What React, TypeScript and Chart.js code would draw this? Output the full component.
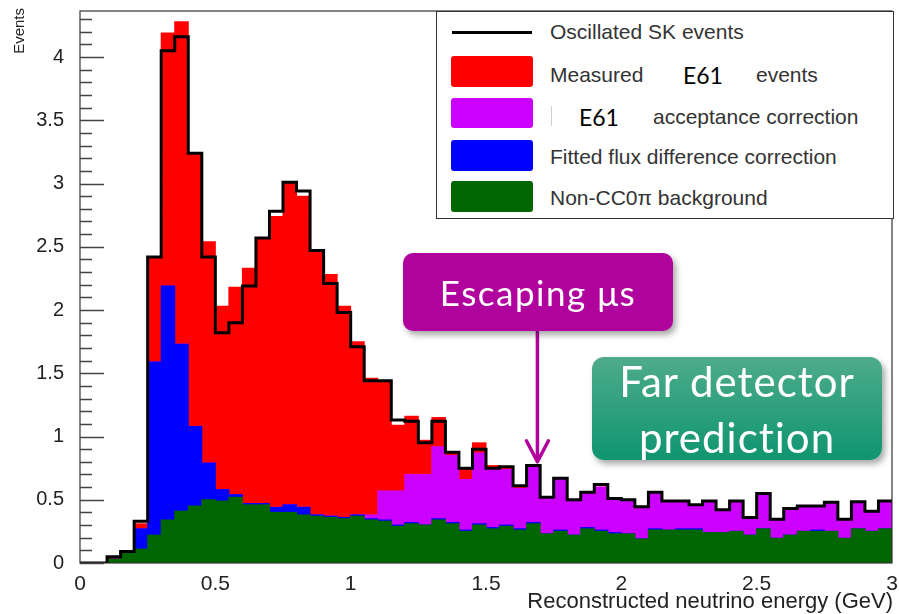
import { useEffect, useRef } from "react";
import { Chart, registerables } from "chart.js";

Chart.register(...registerables);

// Binning: 60 bins of 0.05 GeV from 0 to 3 GeV
const E_MIN = 0;
const E_MAX = 3;
const BIN_WIDTH = 0.05;
const N_BINS = 60;
const binLowEdges = Array.from({ length: N_BINS }, (_, i) => Math.round((E_MIN + i * BIN_WIDTH) * 1000) / 1000);

// Stacked contributions per bin (bottom to top)
const nonCC0piBackground = [
  0, 0, 0.03, 0.08, 0.11, 0.22, 0.34, 0.41, 0.45, 0.5,
  0.49, 0.52, 0.46, 0.46, 0.4, 0.4, 0.38, 0.37, 0.36, 0.35,
  0.37, 0.34, 0.33, 0.29, 0.31, 0.3, 0.34, 0.31, 0.25, 0.3,
  0.27, 0.29, 0.26, 0.31, 0.23, 0.25, 0.22, 0.27, 0.25, 0.23,
  0.23, 0.19, 0.26, 0.26, 0.26, 0.26, 0.24, 0.24, 0.25, 0.22,
  0.27, 0.195, 0.22, 0.25, 0.25, 0.25, 0.195, 0.27, 0.25, 0.27,
];

const fluxDifferenceCorrection = [
  0, 0, 0, 0, 0.16, 1.37, 1.85, 1.32, 0.63, 0.29,
  0.09, 0.02, 0.01, 0.01, 0.04, 0.06, 0.06, 0.01, 0.01, 0.01,
  0.01, 0.01, 0.01, 0.01, 0.01, 0, 0.01, 0.01, 0.01, 0.01,
  0.01, 0.01, 0.01, 0.01, 0, 0.01, 0, 0.01, 0.01, 0.01,
  0, 0, 0.01, 0, 0.01, 0.01, 0, 0, 0, 0,
  0, 0, 0, 0, 0.01, 0, 0, 0, 0, 0,
];

const acceptanceCorrection = [
  0, 0, 0, 0, 0, 0, 0, 0, 0, 0,
  0, 0, 0, 0, 0, 0, 0, 0, 0, 0,
  0, 0.03, 0.23, 0.27, 0.38, 0.4, 0.57, 0.53, 0.4, 0.56,
  0.46, 0.44, 0.32, 0.44, 0.28, 0.4, 0.27, 0.27, 0.34, 0.26,
  0.26, 0.24, 0.28, 0.22, 0.21, 0.18, 0.24, 0.17, 0.23, 0.13,
  0.27, 0.14, 0.2, 0.19, 0.18, 0.22, 0.14, 0.205, 0.15, 0.21,
];

const measuredEvents = [
  0, 0, 0.01, 0, 0.04, 0.83, 2.0, 2.55, 2.16, 1.75,
  1.45, 1.64, 1.86, 2.09, 2.3, 2.54, 2.46, 2.09, 1.91, 1.67,
  1.37, 1.08, 0.87, 0.52, 0.46, 0.27, 0.23, 0.03, 0.09, 0.08,
  0.03, 0.01, 0.01, 0.01, 0, 0, 0, 0, 0, 0,
  0, 0, 0, 0, 0, 0, 0, 0, 0, 0,
  0, 0, 0, 0, 0, 0, 0, 0, 0, 0,
];

// Oscillated SK prediction (drawn as histogram outline)
const oscillatedSK = [
  0, 0, 0.05, 0.09, 0.33, 2.42, 4.05, 4.16, 3.24, 2.42,
  1.82, 1.9, 2.19, 2.57, 2.78, 3.01, 2.94, 2.47, 2.21, 1.98,
  1.71, 1.44, 1.44, 1.13, 1.12, 0.95, 1.12, 0.875, 0.75, 0.9,
  0.75, 0.76, 0.61, 0.77, 0.52, 0.67, 0.5, 0.56, 0.62, 0.51,
  0.5, 0.445, 0.56, 0.49, 0.49, 0.46, 0.49, 0.42, 0.49, 0.36,
  0.55, 0.345, 0.43, 0.45, 0.45, 0.48, 0.345, 0.485, 0.41, 0.49,
];

const Y_MAX = 4.364;

// "Escaping μs" pointer, in data coordinates
const escapingArrow = { energy: 1.69, from: 1.83, to: 0.8 };

const COLORS = {
  background: "#006600",
  flux: "#0000ff",
  acceptance: "#cc00ff",
  measured: "#ff0000",
  outline: "#000000",
  escaping: "#b0029c",
};

const ROOT_FONT = '"Liberation Sans", Arial, Helvetica, sans-serif';
const SLIDE_FONT = 'Lato, "Open Sans", sans-serif';

const binCenters = binLowEdges.map((e) => e + BIN_WIDTH / 2);
const toBars = (vals: number[]) => vals.map((v, i) => ({ x: binCenters[i], y: v }));
const outlinePoints = [
  ...binLowEdges.map((e, i) => ({ x: e, y: oscillatedSK[i] })),
  { x: E_MAX, y: oscillatedSK[oscillatedSK.length - 1] },
];

const fmtTick = (v: number | string) => String(Math.round(Number(v) * 10) / 10);

const noScalePadding = (s: any) => {
  s.paddingTop = 0;
  s.paddingBottom = 0;
  s.paddingLeft = 0;
  s.paddingRight = 0;
};

// Frame, inward ROOT-style ticks, axis titles and the annotation arrow
const rootStylePlugin = {
  id: "rootStyle",
  afterDatasetsDraw(chart: any) {
    const { ctx, chartArea } = chart;
    const { left, top, right, bottom } = chartArea;
    const x = chart.scales.x;
    const y = chart.scales.y;
    ctx.save();

    // frame
    ctx.strokeStyle = "#333";
    ctx.lineWidth = 1.2;
    ctx.strokeRect(left, top, right - left, bottom - top);

    // y ticks: major every 0.5, minor every 0.1
    ctx.strokeStyle = "#444";
    ctx.lineWidth = 1.3;
    ctx.beginPath();
    for (let k = 0; k <= 43; k++) {
      const v = k / 10;
      const py = Math.round(y.getPixelForValue(v)) + 0.5;
      const len = k % 5 === 0 ? 24 : 12;
      ctx.moveTo(left, py);
      ctx.lineTo(left + len, py);
    }
    ctx.stroke();

    // arrow
    const ax = x.getPixelForValue(escapingArrow.energy);
    const ay0 = y.getPixelForValue(escapingArrow.from);
    const ay1 = y.getPixelForValue(escapingArrow.to);
    ctx.strokeStyle = COLORS.escaping;
    ctx.lineWidth = 3.5;
    ctx.lineCap = "round";
    ctx.lineJoin = "round";
    ctx.beginPath();
    ctx.moveTo(ax, ay0);
    ctx.lineTo(ax, ay1);
    ctx.moveTo(ax - 11, ay1 - 21);
    ctx.lineTo(ax, ay1);
    ctx.lineTo(ax + 11, ay1 - 21);
    ctx.stroke();

    // axis titles
    ctx.fillStyle = "#222";
    ctx.font = `22px ${ROOT_FONT}`;
    ctx.textAlign = "right";
    ctx.textBaseline = "middle";
    ctx.fillText("Reconstructed neutrino energy (GeV)", right + 1, 602);

    ctx.translate(20, 8);
    ctx.rotate(-Math.PI / 2);
    ctx.font = `15px ${ROOT_FONT}`;
    ctx.textAlign = "right";
    ctx.fillText("Events", 0, 0);
    ctx.restore();
  },
};

export default function App() {
  const canvasRef = useRef<HTMLCanvasElement>(null);

  useEffect(() => {
    const chart = new Chart(canvasRef.current!, {
      type: "bar",
      data: {
        datasets: [
          {
            type: "line",
            label: "Oscillated SK events",
            data: outlinePoints,
            borderColor: COLORS.outline,
            borderWidth: 3,
            pointRadius: 0,
            stepped: true,
            fill: false,
            order: 0,
            stack: "outline",
          } as any,
          {
            label: "Non-CC0π background",
            data: toBars(nonCC0piBackground),
            backgroundColor: COLORS.background,
            order: 1,
            stack: "prediction",
          },
          {
            label: "Fitted flux difference correction",
            data: toBars(fluxDifferenceCorrection),
            backgroundColor: COLORS.flux,
            order: 2,
            stack: "prediction",
          },
          {
            label: "E61 acceptance correction",
            data: toBars(acceptanceCorrection),
            backgroundColor: COLORS.acceptance,
            order: 3,
            stack: "prediction",
          },
          {
            label: "Measured E61 events",
            data: toBars(measuredEvents),
            backgroundColor: COLORS.measured,
            order: 4,
            stack: "prediction",
          },
        ],
      },
      options: {
        responsive: false,
        animation: false,
        devicePixelRatio: 1,
        layout: { padding: { left: 0, right: 7, top: 11, bottom: 0 } },
        datasets: {
          bar: { barPercentage: 1, categoryPercentage: 1, borderWidth: 0, inflateAmount: 0.5 },
        },
        plugins: { legend: { display: false }, tooltip: { enabled: false } },
        scales: {
          x: {
            type: "linear",
            min: E_MIN,
            max: E_MAX,
            stacked: true,
            offset: false,
            grid: { display: false },
            border: { display: false },
            ticks: {
              stepSize: 0.5,
              autoSkip: false,
              maxRotation: 0,
              padding: 3,
              color: "#222",
              font: { family: ROOT_FONT, size: 21, lineHeight: 1 },
              callback: fmtTick,
            },
            afterFit: (s: any) => {
              s.height = 51;
              noScalePadding(s);
            },
          },
          y: {
            type: "linear",
            min: 0,
            max: Y_MAX,
            stacked: true,
            grid: { display: false },
            border: { display: false },
            ticks: {
              stepSize: 0.5,
              includeBounds: false,
              padding: 8,
              color: "#222",
              font: { family: ROOT_FONT, size: 20, lineHeight: 1 },
              callback: fmtTick,
            },
            afterFit: (s: any) => {
              s.width = 80;
              noScalePadding(s);
            },
          },
        },
      } as any,
      plugins: [rootStylePlugin],
    });
    return () => chart.destroy();
  }, []);

  const legendText: React.CSSProperties = {
    position: "absolute",
    fontFamily: ROOT_FONT,
    fontSize: 21,
    lineHeight: "24px",
    color: "#333",
    whiteSpace: "nowrap",
  };
  const slideE61: React.CSSProperties = {
    position: "absolute",
    fontFamily: SLIDE_FONT,
    fontSize: 23,
    lineHeight: "24px",
    color: "#000",
    whiteSpace: "nowrap",
  };
  const swatch = (color: string, top: number, height: number): React.CSSProperties => ({
    position: "absolute",
    left: 451,
    top,
    width: 82,
    height,
    background: color,
    borderRadius: 3,
  });

  return (
    <div
      style={{
        position: "absolute",
        left: 0,
        top: 0,
        width: 899,
        height: 614,
        background: "#fff",
        overflow: "hidden",
      }}
    >
      <canvas ref={canvasRef} width={899} height={614} style={{ position: "absolute", left: 0, top: 0 }} />

      {/* Legend */}
      <div
        style={{
          position: "absolute",
          left: 436,
          top: 11,
          width: 456,
          height: 206,
          border: "1px solid #333",
          background: "#fff",
        }}
      />
      <div style={{ position: "absolute", left: 452, top: 31, width: 80, height: 3, background: "#000" }} />
      <span style={{ ...legendText, left: 550, top: 20 }}>Oscillated SK events</span>

      <div style={swatch(COLORS.measured, 56, 31)} />
      <span style={{ ...legendText, left: 550, top: 63 }}>Measured</span>
      <span style={{ ...slideE61, left: 683, top: 63 }}>E61</span>
      <span style={{ ...legendText, left: 756, top: 63 }}>events</span>

      <div style={swatch(COLORS.acceptance, 98, 30)} />
      <div style={{ position: "absolute", left: 551, top: 106, width: 1, height: 20, background: "#cfcfcf" }} />
      <span style={{ ...slideE61, left: 579, top: 105 }}>E61</span>
      <span style={{ ...legendText, left: 653, top: 105 }}>acceptance correction</span>

      <div style={swatch(COLORS.flux, 140, 31)} />
      <span style={{ ...legendText, left: 550, top: 145 }}>Fitted flux difference correction</span>

      <div style={swatch(COLORS.background, 181, 31)} />
      <span style={{ ...legendText, left: 550, top: 186 }}>Non-CC0π background</span>

      {/* Annotations */}
      <div
        style={{
          position: "absolute",
          left: 403,
          top: 253,
          width: 270,
          height: 78,
          borderRadius: 10,
          background: COLORS.escaping,
          boxShadow: "3px 4px 6px rgba(0,0,0,0.35)",
          color: "#fff",
          fontFamily: SLIDE_FONT,
          fontSize: 35,
          letterSpacing: "1.5px",
          display: "flex",
          alignItems: "center",
          justifyContent: "center",
          whiteSpace: "nowrap",
        }}
      >
        Escaping μs
      </div>
      <div
        style={{
          position: "absolute",
          left: 592,
          top: 357,
          width: 290,
          height: 103,
          borderRadius: 12,
          background: "linear-gradient(#4eab8b, #0f956f)",
          boxShadow: "3px 4px 6px rgba(0,0,0,0.35)",
        }}
      >
        <div
          style={{
            position: "absolute",
            left: 0,
            top: -4,
            width: "100%",
            textAlign: "center",
            color: "#fff",
            fontFamily: SLIDE_FONT,
            fontSize: 42,
            letterSpacing: "1px",
            lineHeight: "56px",
            whiteSpace: "nowrap",
          }}
        >
          Far detector
          <br />
          prediction
        </div>
      </div>
    </div>
  );
}
